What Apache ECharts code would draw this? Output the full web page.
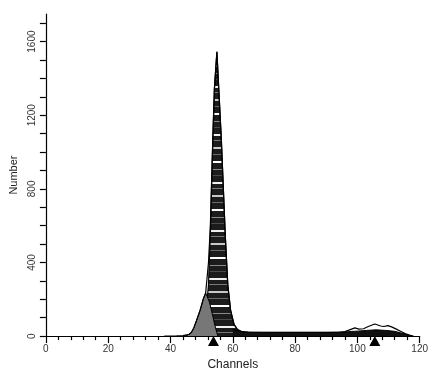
<!DOCTYPE html>
<html>
<head>
<meta charset="utf-8">
<script src="https://cdn.jsdelivr.net/npm/echarts@6/dist/echarts.min.js"></script>
<style>html,body{margin:0;padding:0;background:#fff}#c{width:431px;height:376px}</style>
</head>
<body>
<div id="c"></div>
<script>
// ---- data ----
const xTickLabels = [0, 20, 40, 60, 80, 100, 120];
const yTickLabels = [0, 400, 800, 1200, 1600];
const yTicks = [0,100,200,300,400,500,600,700,800,900,1000,1100,1200,1300,1400,1500,1600,1700];

// total histogram outline
const histChannels = [38,42,44,46,46.7,47.5,48.3,49.5,50.5,51.3,51.7,52.2,52.8,53.6,54.1,54.9,55.5,56.3,57.6,58.4,59.3,60.4,61.5,63,65,70,75,80,85,90,94,96,97.5,99.2,100.5,102,103.5,105.6,107.5,108.5,109.8,111,112.5,114,115.5,117,118];
const histCounts   = [0,1,3,10,20,45,82,140,200,235,245,400,600,1077,1344,1545,1344,1077,544,277,140,64,36,24,22,21,20,20,20,20,21,24,34,45,38,40,52,66,55,52,57,50,38,25,12,4,0];

// main (striped) peak component
const peakChannels = [49,50.5,51.5,52.2,52.8,53.6,54.1,54.9,55.5,56.3,57.6,58.4,59.3,60.4,61.5,63,64];
const peakCounts   = [0,40,150,277,560,1077,1344,1545,1344,1077,544,277,140,64,36,22,20];

// gray (left) component
const grayChannels = [44,45.5,46.7,47.5,48.3,49.5,50.5,51.3,51.7,52.5,53.5,54.3,55.2];
const grayCounts   = [0,5,20,45,82,140,200,235,242,185,115,55,0];

// S-phase / G2 dark background
const bgChannels = [60,61.5,63,65,70,80,90,94,96,98,100,103,106,109,112,114,116,117];
const bgCounts   = [36,30,22,21,20,20,20,21,22,25,27,31,34,31,26,17,8,0];

// peak markers
const markerChannels = [53.8, 105.6];

// ---- build ----
const zip = (a, b) => a.map((v, i) => [v, b[i]]);

function stripePattern() {
  const c = document.createElement('canvas');
  c.width = 8; c.height = 48;
  const g = c.getContext('2d');
  g.fillStyle = '#1c1c1c'; g.fillRect(0, 0, 8, 48);
  const lines = [[3,2,'#c8c8c8'],[10,1,'#6a6a6a'],[17,2,'#ffffff'],[25,1,'#8a8a8a'],[31,1,'#4a4a4a'],[38,2,'#f0f0f0'],[44,1,'#7a7a7a']];
  lines.forEach(([y,h,col]) => { g.fillStyle = col; g.fillRect(0, y, 8, h); });
  return c;
}

const chart = echarts.init(document.getElementById('c'), null, {renderer: 'canvas'});
const font = 'Liberation Sans, Arial, sans-serif';
chart.setOption({
  animation: false,
  backgroundColor: '#fff',
  grid: {left: 43, right: 11, top: 14, bottom: 34, containLabel: false},
  xAxis: {
    type: 'value', min: 0, max: 120, interval: 20,
    name: 'Channels', nameLocation: 'middle', nameGap: 19,
    nameTextStyle: {fontFamily: font, fontSize: 12, color: '#222'},
    axisLine: {lineStyle: {color: '#000', width: 1.2}},
    axisTick: {length: 7, lineStyle: {color: '#000', width: 1.2}},
    minorTick: {show: true, splitNumber: 5, length: 4, lineStyle: {color: '#000', width: 1.2}},
    splitLine: {show: false}, minorSplitLine: {show: false},
    axisLabel: {customValues: xTickLabels, formatter: v => String(v), fontFamily: font, fontSize: 10, color: '#333', margin: 8}
  },
  yAxis: {
    type: 'value', min: 0, max: 1750, interval: 100,
    name: 'Number', nameLocation: 'middle', nameGap: 21,
    nameTextStyle: {fontFamily: font, fontSize: 11, color: '#222'},
    axisLine: {lineStyle: {color: '#000', width: 1.2}},
    axisTick: {customValues: yTicks, length: 6, lineStyle: {color: '#000', width: 1.2}},
    splitLine: {show: false},
    axisLabel: {customValues: yTickLabels, formatter: v => String(v), rotate: 90, fontFamily: font, fontSize: 10, color: '#333', margin: 9}
  },
  series: [
    {type: 'line', data: zip(peakChannels, peakCounts), showSymbol: false, z: 2,
     lineStyle: {color: '#000', width: 1.2},
     areaStyle: {color: {image: stripePattern(), repeat: 'repeat'}, opacity: 1}},
    {type: 'line', data: zip(bgChannels, bgCounts), showSymbol: false, z: 3,
     lineStyle: {color: '#000', width: 1},
     areaStyle: {color: '#111', opacity: 1}},
    {type: 'line', data: zip(grayChannels, grayCounts), showSymbol: false, z: 4,
     lineStyle: {color: '#000', width: 1},
     areaStyle: {color: '#777', opacity: 1}},
    {type: 'line', data: zip(histChannels, histCounts), showSymbol: false, z: 5,
     lineStyle: {color: '#000', width: 1.2}},
    {type: 'scatter', data: markerChannels.map(c => [c, 0]), symbol: 'triangle',
     symbolSize: [11, 10], symbolOffset: [0, 5], clip: false, z: 10,
     itemStyle: {color: '#000', opacity: 1}}
  ]
});
</script>
</body>
</html>
